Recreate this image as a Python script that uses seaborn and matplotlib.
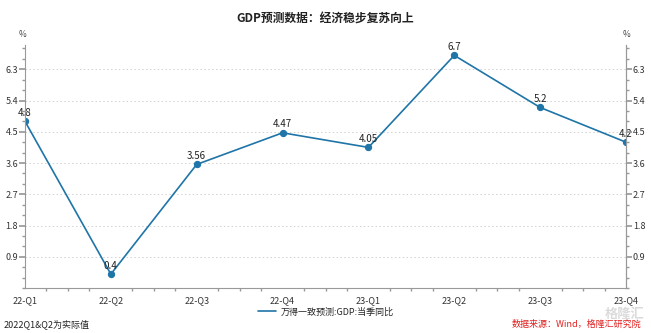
import matplotlib
matplotlib.use("Agg")
import matplotlib.pyplot as plt
import seaborn as sns
import pandas as pd
from matplotlib.ticker import MultipleLocator, AutoMinorLocator

quarters = ["22-Q1", "22-Q2", "22-Q3", "22-Q4", "23-Q1", "23-Q2", "23-Q3", "23-Q4"]
gdp_yoy = [4.8, 0.4, 3.56, 4.47, 4.05, 6.7, 5.2, 4.2]
value_labels = ["4.8", "0.4", "3.56", "4.47", "4.05", "6.7", "5.2", "4.2"]
series_name = "万得一致预测:GDP:当季同比"
title = "GDP预测数据：经济稳步复苏向上"
footnote = "2022Q1&Q2为实际值"
source = "数据来源：Wind，格隆汇研究院"

sns.set_theme(style="white")
plt.rcParams["font.family"] = ["Noto Sans CJK SC", "DejaVu Sans"]

df = pd.DataFrame({"quarter": quarters, "value": gdp_yoy, "pos": range(len(quarters))})

color = "#1f74a8"
fig = plt.figure(figsize=(6.51, 3.33), dpi=100)
ax = fig.add_axes([0.0384, 0.135, 0.9232, 0.73])

sns.lineplot(data=df, x="pos", y="value", ax=ax, color=color, linewidth=1.2,
             marker="o", markersize=4.5, markeredgecolor=color, label=series_name,
             legend=False)

for x, y, t in zip(df["pos"], df["value"], value_labels):
    ax.text(x, y + 0.1, t, ha="center", va="bottom", fontsize=7, color="#222222")

ax.set_xlim(0, len(quarters) - 1)
ax.set_ylim(0, 7.0)
ax.set_xticks(df["pos"])
ax.set_xticklabels(quarters, fontsize=6.5, color="#333333")
ax.xaxis.set_minor_locator(AutoMinorLocator(4))
ax.yaxis.set_minor_locator(MultipleLocator(0.3))
ax.set_xlabel("")
ax.set_ylabel("")

yt = [0.9 * i for i in range(1, 8) if 0.9 * i < 7.0]
ax.set_yticks(yt)
ax.set_yticklabels([f"{v:.1f}" for v in yt], fontsize=6.5, color="#333333")
ax.grid(axis="y", which="major", linestyle=(0, (1.5, 2.5)), color="#d0d0d0", linewidth=0.7)

ax.spines["top"].set_visible(False)
for s in ["left", "right", "bottom"]:
    ax.spines[s].set_color("#999999")
    ax.spines[s].set_linewidth(0.8)

ax.tick_params(axis="y", which="major", direction="out", length=4, color="#999999", pad=1,
               left=True, right=False)
ax.tick_params(axis="y", which="minor", direction="out", length=2.5, color="#999999", left=True)
ax.tick_params(axis="x", which="major", direction="out", length=4, color="#999999", pad=2)
ax.tick_params(axis="x", which="minor", direction="out", length=2.5, color="#999999", bottom=True)

# mirrored right axis
ax2 = ax.twinx()
ax2.set_ylim(ax.get_ylim())
ax2.yaxis.set_minor_locator(MultipleLocator(0.3))
ax2.set_yticks(yt)
ax2.set_yticklabels([f"{v:.1f}" for v in yt], fontsize=6.5, color="#333333")
ax2.tick_params(axis="y", which="major", direction="out", length=4, color="#999999", pad=1)
ax2.tick_params(axis="y", which="minor", direction="out", length=2.5, color="#999999")
for s in ["top", "left", "bottom"]:
    ax2.spines[s].set_visible(False)
ax2.spines["right"].set_color("#999999")
ax2.spines["right"].set_linewidth(0.8)

fig.text(0.5, 0.945, title, ha="center", va="center", fontsize=8.5, fontweight="bold", color="#222222")
fig.text(0.034, 0.895, "%", ha="center", va="center", fontsize=6, color="#444444")
fig.text(0.963, 0.895, "%", ha="center", va="center", fontsize=6, color="#444444")

handles, labels = ax.get_legend_handles_labels()
fig.legend(handles, labels, loc="center", bbox_to_anchor=(0.5, 0.063), frameon=False,
           fontsize=6.5, handlelength=2.0, handletextpad=0.5)
for h in fig.legends[0].get_lines():
    h.set_marker("")

fig.text(0.006, 0.025, footnote, ha="left", va="center", fontsize=6.5, color="#222222")
fig.text(0.985, 0.025, source, ha="right", va="center", fontsize=6.5, color="#e02020", style="italic")
fig.text(0.99, 0.057, "格隆汇", ha="right", va="center", fontsize=9.5, color="#b0b0b0",
         alpha=0.45, fontweight="bold")

fig.savefig("out.png", dpi=100, facecolor="white")
